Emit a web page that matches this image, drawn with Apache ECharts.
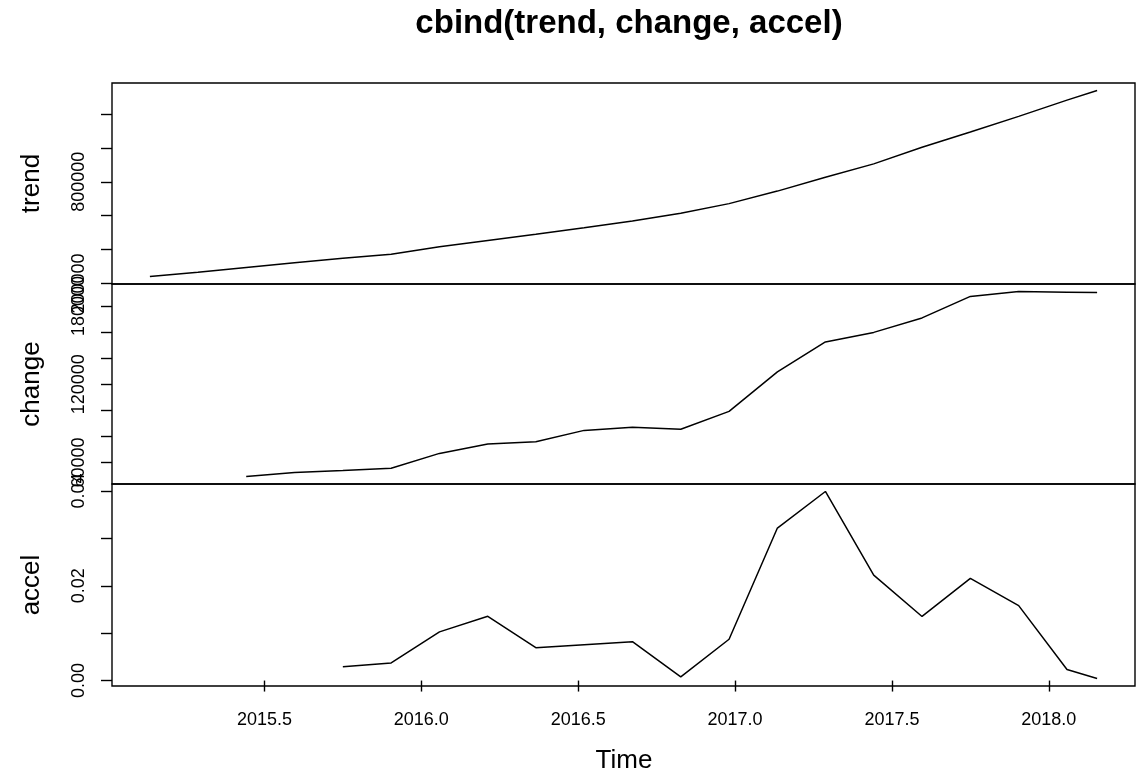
<!DOCTYPE html>
<html>
<head>
<meta charset="utf-8">
<script src="https://cdn.jsdelivr.net/npm/echarts@6/dist/echarts.min.js"></script>
<style>
  html, body { margin: 0; padding: 0; background: #fff; }
  #chart { width: 1147px; height: 776px; }
</style>
</head>
<body>
<div id="chart"></div>
<script>
// time in years, one point every 8 weeks (last one 5 weeks later)
var time = [2015.135, 2015.288, 2015.442, 2015.596, 2015.750, 2015.904,
  2016.058, 2016.212, 2016.365, 2016.519, 2016.673, 2016.827, 2016.981,
  2017.135, 2017.288, 2017.442, 2017.596, 2017.750, 2017.904, 2018.058, 2018.154];

var trend = [241300, 267300, 295000, 322100, 348700, 372300, 416500, 454300,
  490300, 528600, 568800, 614800, 671400, 745200, 826600, 905600, 1003600,
  1093300, 1185900, 1281500, 1338700];

var change = [null, null, 49190, 52410, 53940, 55630, 66970, 74100, 75940,
  84600, 87050, 85520, 99160, 129420, 152410, 159690, 170800, 187280, 191110,
  190500, 190190];

var accel = [null, null, null, null, 0.00289, 0.00372, 0.01028, 0.01357,
  0.00694, 0.00757, 0.00821, 0.00077, 0.00872, 0.03219, 0.03991, 0.02226,
  0.01353, 0.02155, 0.01581, 0.00234, 0.00043];

// axis ticks and the labels R kept (the others overlap)
var timeTicks = [2015.5, 2016.0, 2016.5, 2017.0, 2017.5, 2018.0];
var trendTicks = [200000, 400000, 600000, 800000, 1000000, 1200000];
var trendLabels = [200000, 800000];
var changeTicks = [60000, 80000, 100000, 120000, 140000, 160000, 180000];
var changeLabels = [60000, 120000, 180000];
var accelTicks = [0, 0.01, 0.02, 0.03, 0.04];
var accelLabels = [0, 0.02, 0.04];

var FONT = '"Liberation Sans", Arial, sans-serif';

// R style range: data range plus 4% on each side
function padRange(vals) {
  var v = vals.filter(function (x) { return x != null; });
  var lo = Math.min.apply(null, v), hi = Math.max.apply(null, v), r = hi - lo;
  return [lo - 0.04 * r, hi + 0.04 * r];
}

var xr = padRange(time);

var panels = [
  { name: 'trend', data: trend, ticks: trendTicks, labels: trendLabels, top: 83, height: 201,
    fmt: function (v) { return String(v); } },
  { name: 'change', data: change, ticks: changeTicks, labels: changeLabels, top: 284, height: 200,
    fmt: function (v) { return String(v); } },
  { name: 'accel', data: accel, ticks: accelTicks, labels: accelLabels, top: 484, height: 202,
    fmt: function (v) { return v.toFixed(2); } }
];

var grids = [], xAxes = [], yAxes = [], series = [];

panels.forEach(function (p, i) {
  var yr = padRange(p.data);
  grids.push({
    left: 112, width: 1023, top: p.top, height: p.height,
    show: true, borderColor: '#000', borderWidth: 1.4, backgroundColor: 'transparent'
  });
  var last = i === panels.length - 1;
  xAxes.push({
    type: 'value', gridIndex: i, min: xr[0], max: xr[1], show: last,
    axisLine: { show: false },
    splitLine: { show: false },
    axisTick: { show: true, length: 11, customValues: timeTicks, lineStyle: { color: '#000', width: 1.4 } },
    axisLabel: { customValues: timeTicks, margin: 25, fontSize: 18, color: '#000', fontFamily: FONT,
      formatter: function (v) { return v.toFixed(1); } }
  });
  yAxes.push({
    type: 'value', gridIndex: i, min: yr[0], max: yr[1],
    name: p.name, nameLocation: 'middle', nameRotate: 90, nameGap: 67,
    nameTextStyle: { fontSize: 26, color: '#000', fontFamily: FONT },
    axisLine: { show: false },
    splitLine: { show: false },
    axisTick: { show: true, length: 11, customValues: p.ticks, lineStyle: { color: '#000', width: 1.4 } },
    axisLabel: { customValues: p.labels, rotate: 90, margin: 24, fontSize: 18, color: '#000',
      fontFamily: FONT, formatter: p.fmt }
  });
  var pts = [];
  p.data.forEach(function (v, k) { if (v != null) pts.push([time[k], v]); });
  series.push({
    type: 'line', xAxisIndex: i, yAxisIndex: i, data: pts,
    showSymbol: false, silent: true,
    lineStyle: { color: '#000', width: 1.5 }
  });
});

var myChart = echarts.init(document.getElementById('chart'));
myChart.setOption({
  animation: false,
  backgroundColor: '#fff',
  grid: grids,
  xAxis: xAxes,
  yAxis: yAxes,
  series: series,
  graphic: [
    { type: 'text', style: { text: 'cbind(trend, change, accel)', x: 629, y: 23.5,
      textAlign: 'center', textVerticalAlign: 'middle', fontSize: 33, fontWeight: 'bold', fontFamily: FONT, fill: '#000' } },
    { type: 'text', style: { text: 'Time', x: 624, y: 761,
      textAlign: 'center', textVerticalAlign: 'middle', fontSize: 26, fontFamily: FONT, fill: '#000' } }
  ]
});
</script>
</body>
</html>
